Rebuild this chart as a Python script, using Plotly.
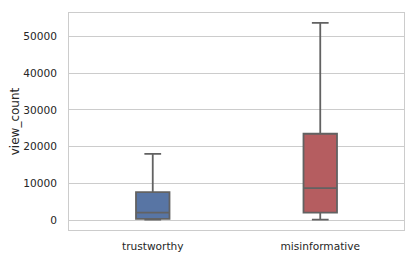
import plotly.graph_objects as go

categories = ["trustworthy", "misinformative"]
lower_whisker = [100, 100]
q1_vals = [300, 2000]
median_vals = [2000, 8700]
q3_vals = [7600, 23500]
upper_whisker = [18000, 53700]
fill_colors = ["#5875a4", "#b55d60"]
y_tick_vals = [0, 10000, 20000, 30000, 40000, 50000]

fig = go.Figure()
for i, cat in enumerate(categories):
    fig.add_trace(go.Box(
        x=[cat],
        q1=[q1_vals[i]], median=[median_vals[i]], q3=[q3_vals[i]],
        lowerfence=[lower_whisker[i]], upperfence=[upper_whisker[i]],
        fillcolor=fill_colors[i],
        line=dict(color="#626262", width=1.8),
        width=0.2,
        whiskerwidth=0.5,
        boxpoints=False,
        showlegend=False,
        hoverinfo="skip",
    ))

# page body has an 8px margin, so the figure is sized to fit the 416x257 window
fig.update_layout(
    width=408, height=249,
    margin=dict(l=61, r=12, t=5, b=27),
    paper_bgcolor="white", plot_bgcolor="white",
    font=dict(family="DejaVu Sans", size=10.6, color="#262626"),
)
fig.update_xaxes(
    type="category", categoryorder="array", categoryarray=categories,
    range=[-0.5, 1.5], automargin=False,
    showgrid=False, showline=True, mirror=True, linecolor="#cccccc", linewidth=1,
    ticks="outside", ticklen=6, tickcolor="rgba(0,0,0,0)",
    zeroline=False,
)
fig.update_yaxes(
    range=[-2720, 56400], automargin=False,
    tickvals=y_tick_vals, ticktext=[str(v) for v in y_tick_vals],
    showgrid=True, gridcolor="#cccccc", gridwidth=1,
    showline=True, mirror=True, linecolor="#cccccc", linewidth=1,
    ticks="outside", ticklen=9, tickcolor="rgba(0,0,0,0)",
    zeroline=False,
    title=dict(text="view_count", font=dict(size=12), standoff=8),
)

fig.write_html("out.html")
